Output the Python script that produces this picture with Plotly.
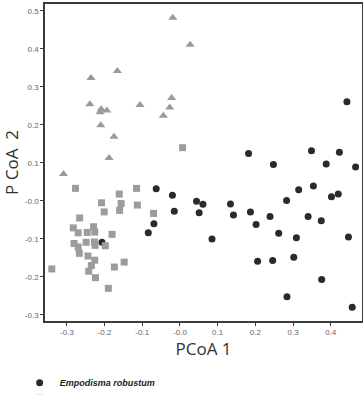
import plotly.graph_objects as go

# Empodisma robustum (circles)
robustum_x = [0.443, 0.182, 0.248, 0.349, 0.388, 0.423, 0.466, 0.315, 0.354, 0.402, 0.420,
              -0.063, -0.020, 0.044, 0.061, 0.051, -0.015, -0.069, -0.084, -0.207, 0.085,
              0.134, 0.142, 0.187, 0.202, 0.239, 0.262, 0.283, 0.340, 0.375, 0.309, 0.447,
              0.206, 0.246, 0.302, 0.376, 0.284, 0.457]
robustum_y = [0.261, 0.125, 0.096, 0.132, 0.097, 0.128, 0.089, 0.029, 0.039, 0.011, 0.018,
              0.032, 0.015, -0.001, -0.009, -0.031, -0.027, -0.060, -0.084, -0.109, -0.100,
              -0.008, -0.037, -0.029, -0.062, -0.041, -0.085, 0.001, -0.041, -0.052, -0.097, -0.095,
              -0.159, -0.157, -0.148, -0.207, -0.252, -0.280]

# second group (squares)
minus_x = [0.007, -0.277, -0.161, -0.115, -0.208, -0.156, -0.201, -0.160, -0.113, -0.070,
           -0.266, -0.283, -0.270, -0.246, -0.229, -0.226, -0.180, -0.281, -0.270, -0.249,
           -0.227, -0.225, -0.198, -0.267, -0.244, -0.226, -0.235, -0.242, -0.224, -0.174,
           -0.148, -0.340, -0.190]
minus_y = [0.140, 0.033, 0.018, 0.033, -0.005, -0.007, -0.029, -0.025, -0.011, -0.033,
           -0.045, -0.071, -0.084, -0.083, -0.068, -0.082, -0.088, -0.112, -0.121, -0.109,
           -0.108, -0.117, -0.118, -0.138, -0.145, -0.156, -0.170, -0.185, -0.202, -0.174,
           -0.161, -0.179, -0.230]

# third group (triangles)
tri_x = [-0.019, 0.027, -0.236, -0.166, -0.239, -0.209, -0.212, -0.194, -0.210, -0.106,
         -0.022, -0.027, -0.044, -0.175, -0.188, -0.309]
tri_y = [0.482, 0.411, 0.323, 0.342, 0.254, 0.241, 0.233, 0.238, 0.199, 0.252,
         0.271, 0.246, 0.224, 0.169, 0.113, 0.071]

group_names = ["Empodisma robustum", "Empodisma minus", "Sporadanthus ferrugineus"]

tick_vals_x = [-0.3, -0.2, -0.1, 0.0, 0.1, 0.2, 0.3, 0.4]
tick_text_x = ["-0.3", "-0.2", "-0.1", "-0.0", "0.1", "0.2", "0.3", "0.4"]
tick_vals_y = [-0.3, -0.2, -0.1, 0.0, 0.1, 0.2, 0.3, 0.4, 0.5]
tick_text_y = ["-0.3", "-0.2", "-0.1", "-0.0", "0.1", "0.2", "0.3", "0.4", "0.5"]

fig = go.Figure()
fig.add_trace(go.Scatter(x=robustum_x, y=robustum_y, mode="markers", name=group_names[0],
                         legend="legend",
                         marker=dict(symbol="circle", size=7, color="#2a2a2a")))
fig.add_trace(go.Scatter(x=minus_x, y=minus_y, mode="markers", name=group_names[1],
                         legend="legend2",
                         marker=dict(symbol="square", size=7, color="#9c9c9c")))
fig.add_trace(go.Scatter(x=tri_x, y=tri_y, mode="markers", name=group_names[2],
                         legend="legend3",
                         marker=dict(symbol="triangle-up", size=8, color="#9a9a9a")))

axis_common = dict(showgrid=False, zeroline=False, showline=True, mirror=True,
                   linecolor="#3a3a3a", linewidth=1.5, ticks="outside", ticklen=3,
                   tickwidth=1, tickcolor="#3a3a3a",
                   tickfont=dict(family="Liberation Sans, Arial", size=8, color="#666666"))

legend_font = dict(family="Liberation Sans, Arial", size=9, color="#222222",
                   style="italic", weight="bold")
legend_common = dict(xanchor="left", yanchor="top", orientation="v", font=legend_font,
                     itemwidth=30, tracegroupgap=0, bgcolor="rgba(0,0,0,0)",
                     borderwidth=0)

fig.update_layout(
    width=363, height=395,
    margin=dict(l=45, r=1, t=4, b=74, autoexpand=False),
    paper_bgcolor="white", plot_bgcolor="white",
    xaxis=dict(range=[-0.358, 0.483], tickvals=tick_vals_x, ticktext=tick_text_x,
               title=dict(text="PCoA 1", standoff=6,
                          font=dict(family="Open Sans", size=17, color="#333333")),
               **axis_common),
    yaxis=dict(range=[-0.316, 0.518], tickvals=tick_vals_y, ticktext=tick_text_y,
               title=dict(text="P CoA  2", standoff=4,
                          font=dict(family="Open Sans", size=17, color="#333333")),
               **axis_common),
    showlegend=True,
    legend=dict(x=-0.08, y=-0.149, **legend_common),
    legend2=dict(x=-0.08, y=-0.198, **legend_common),
    legend3=dict(x=-0.08, y=-0.30, **legend_common),
)

fig.write_html("out.html")
